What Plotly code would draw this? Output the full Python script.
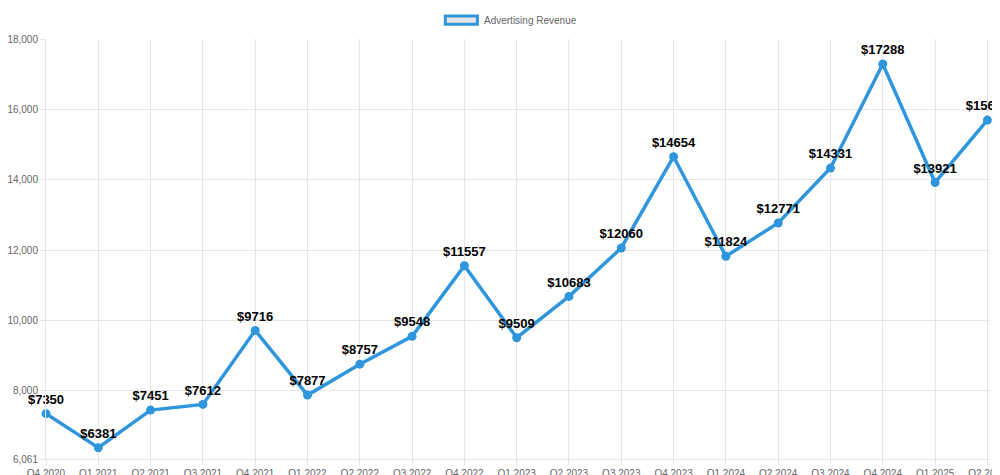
import plotly.graph_objects as go

quarters = ["Q4 2020", "Q1 2021", "Q2 2021", "Q3 2021", "Q4 2021", "Q1 2022", "Q2 2022",
            "Q3 2022", "Q4 2022", "Q1 2023", "Q2 2023", "Q3 2023", "Q4 2023", "Q1 2024",
            "Q2 2024", "Q3 2024", "Q4 2024", "Q1 2025", "Q2 2025"]
revenue = [7350, 6381, 7451, 7612, 9716, 7877, 8757, 9548, 11557, 9509, 10683, 12060,
           14654, 11824, 12771, 14331, 17288, 13921, 15694]
y_ticks = [6061, 8000, 10000, 12000, 14000, 16000, 18000]

blue = "#2f96dc"

fig = go.Figure()
fig.add_trace(go.Scatter(
    x=quarters, y=revenue, mode="lines+markers+text",
    name="Advertising Revenue",
    line=dict(color=blue, width=3.5),
    marker=dict(color=blue, size=9),
    text=[f"${v}" for v in revenue],
    textposition="top center",
    textfont=dict(family="Liberation Sans, Arial", size=13, color="black", weight="bold"),
    cliponaxis=False,
    showlegend=False,
))

# chart.js style legend box
fig.add_shape(type="rect", xref="paper", yref="paper",
              x0=0.423, x1=0.457, y0=1.035, y1=1.055,
              fillcolor="#e6e6e6", line=dict(color=blue, width=3))
fig.add_annotation(xref="paper", yref="paper", x=0.462, y=1.045, xanchor="left",
                   yanchor="middle", showarrow=False, text="Advertising Revenue",
                   font=dict(size=10, color="#666"))

fig.update_xaxes(showgrid=True, gridcolor="#e6e6e6", linecolor="#e6e6e6",
                 tickfont=dict(size=10, color="#666"), range=[0, 18.05], ticks="outside",
                 tickcolor="#e6e6e6", ticklen=5, automargin=False)
fig.update_yaxes(range=[6061, 18000], tickvals=y_ticks,
                 ticktext=[f"{v:,}" for v in y_ticks],
                 showgrid=True, gridcolor="#e6e6e6", linecolor="#e6e6e6",
                 tickfont=dict(size=10, color="#666"), zeroline=False,
                 ticks="outside", tickcolor="#e6e6e6", ticklen=5, automargin=False)
fig.update_layout(
    width=1000, height=475,
    margin=dict(l=38, r=18, t=31, b=24, autoexpand=False),
    plot_bgcolor="white", paper_bgcolor="white",
    font=dict(family="Liberation Sans, Arial"),
)
fig.write_html("out.html")
